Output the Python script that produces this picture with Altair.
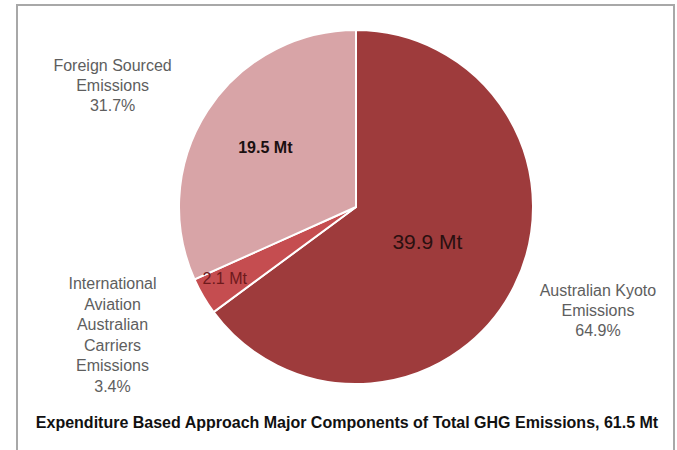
import altair as alt
import pandas as pd

# Major components of total GHG emissions (expenditure based approach)
components = [
    "Australian Kyoto Emissions",
    "International Aviation Australian Carriers Emissions",
    "Foreign Sourced Emissions",
]
outer_names = [
    "Australian Kyoto\nEmissions",
    "International\nAviation\nAustralian\nCarriers\nEmissions",
    "Foreign Sourced\nEmissions",
]
emissions_mt = [39.9, 2.1, 19.5]
share_pct = [64.9, 3.4, 31.7]
slice_colors = ["#9E3B3C", "#C54D50", "#D8A4A7"]
title_text = "Expenditure Based Approach Major Components of  Total GHG Emissions, 61.5 Mt"

df = pd.DataFrame({
    "component": components,
    "order": list(range(len(components))),
    "mt": emissions_mt,
    "inner": [f"{v} Mt" for v in emissions_mt],
    "outer": [f"{n}\n{p}%" for n, p in zip(outer_names, share_pct)],
})

CX, CY, R = 356, 207, 177
FONT = "Liberation Sans"

base = alt.Chart(df).encode(
    theta=alt.Theta("mt:Q", stack=True),
    order=alt.Order("order:Q"),
    x=alt.value(CX),
    y=alt.value(CY),
)

pie = base.mark_arc(stroke="white", strokeWidth=2).encode(
    color=alt.Color("component:N",
                    scale=alt.Scale(domain=components, range=slice_colors),
                    legend=None),
    radius=alt.value(R),
)


def slice_label(name, field, radius, dy=0, **style):
    return base.mark_text(font=FONT, lineBreak="\n", dy=dy, **style).encode(
        text=alt.when(alt.datum.component == name)
        .then(alt.Text(f"{field}:N"))
        .otherwise(alt.value("")),
        radius=alt.value(radius),
    )


inner_labels = [
    slice_label(components[0], "inner", 80, fontSize=21, color="#2A1010"),
    slice_label(components[1], "inner", 152, dy=-5, fontSize=16, color="#6E1A1C"),
    slice_label(components[2], "inner", 108, fontSize=16, fontWeight="bold",
                color="#1A1010"),
]

# multi-line labels are anchored on their first line
outer_labels = [
    slice_label(components[0], "outer", 271, dy=-38, fontSize=16,
                color="#5E5E5E", lineHeight=20),
    slice_label(components[1], "outer", 282, dy=-65, fontSize=16,
                color="#5E5E5E", lineHeight=20.5),
    slice_label(components[2], "outer", 290, dy=17, fontSize=16,
                color="#5E5E5E", lineHeight=20),
]

frame_df = pd.DataFrame({"k": [0]})
frame = alt.Chart(frame_df).mark_rect(
    fill="white", stroke="#A8A8A8", strokeWidth=2
).encode(
    x=alt.value(17), x2=alt.value(674), y=alt.value(5), y2=alt.value(470)
)

title = alt.Chart(pd.DataFrame({"t": [title_text]})).mark_text(
    font=FONT, fontSize=16, fontWeight="bold", color="#111111"
).encode(
    text="t:N", x=alt.value(347), y=alt.value(423)
)

chart = alt.layer(frame, pie, *inner_labels, *outer_labels, title).properties(
    width=677, height=450, padding=0, autosize="none", background="white"
).configure_view(stroke=None)

chart.save("out.html", embed_options={"renderer": "svg", "actions": False})
